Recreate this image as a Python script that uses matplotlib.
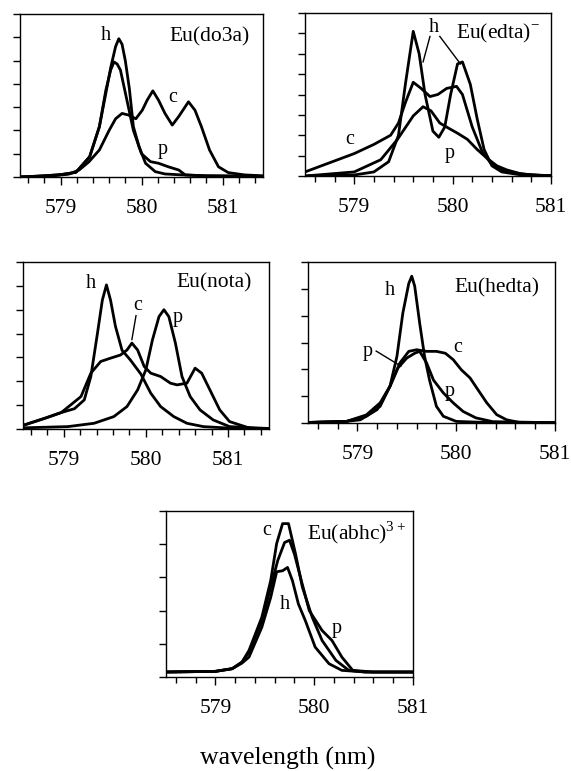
import matplotlib
matplotlib.use("Agg")
import matplotlib.pyplot as plt
from matplotlib.ticker import MultipleLocator

plt.rcParams['font.family'] = ['Liberation Serif', 'DejaVu Serif']
plt.rcParams['mathtext.fontset'] = 'custom'
plt.rcParams['mathtext.rm'] = 'Liberation Serif'

# ---------------- Eu(do3a) ----------------
do3a_h_x = [578.5, 578.8, 579.0, 579.19, 579.36, 579.48, 579.56, 579.62, 579.68, 579.72, 579.76,
            579.8, 579.85, 579.9, 579.97, 580.05, 580.17, 580.29, 580.5, 580.8, 581.5]
do3a_h_y = [0.0, 0.05, 0.1, 0.2, 0.87, 2.16, 3.6, 4.7, 5.6, 5.94, 5.7,
            5.0, 3.8, 2.16, 1.3, 0.59, 0.23, 0.13, 0.09, 0.05, 0.03]
do3a_p_x = [578.5, 578.8, 579.0, 579.19, 579.36, 579.48, 579.56, 579.62, 579.66, 579.7, 579.74,
            579.82, 579.9, 580.0, 580.11, 580.21, 580.33, 580.46, 580.54, 580.8, 581.5]
do3a_p_y = [0.0, 0.05, 0.1, 0.2, 0.87, 2.16, 3.73, 4.6, 4.94, 4.85, 4.59,
            3.3, 2.0, 1.0, 0.66, 0.59, 0.44, 0.3, 0.09, 0.05, 0.03]
do3a_c_x = [578.5, 578.9, 579.1, 579.23, 579.35, 579.48, 579.6, 579.68, 579.76, 579.84, 579.93,
            580.01, 580.07, 580.14, 580.21, 580.29, 580.38, 580.46, 580.58, 580.66, 580.74,
            580.84, 580.95, 581.07, 581.27, 581.5]
do3a_c_y = [0.0, 0.05, 0.12, 0.3, 0.65, 1.16, 2.0, 2.5, 2.73, 2.66, 2.5,
            2.87, 3.3, 3.7, 3.3, 2.73, 2.23, 2.6, 3.23, 2.87, 2.16,
            1.16, 0.44, 0.19, 0.09, 0.05]

# ---------------- Eu(edta)- ----------------
edta_h_x = [578.5, 579.0, 579.2, 579.35, 579.45, 579.52, 579.6, 579.66, 579.72, 579.8, 579.86,
            579.92, 579.98, 580.05, 580.1, 580.18, 580.25, 580.32, 580.4, 580.5, 580.7, 581.0]
edta_h_y = [0.0, 0.05, 0.2, 0.7, 2.0, 4.5, 7.1, 6.0, 4.0, 2.2, 1.9,
            2.4, 4.0, 5.5, 5.6, 4.5, 2.8, 1.3, 0.5, 0.2, 0.05, 0.02]
edta_c_x = [578.5, 579.0, 579.2, 579.37, 579.45, 579.52, 579.6, 579.68, 579.77, 579.85, 579.94,
            580.04, 580.1, 580.2, 580.3, 580.4, 580.55, 580.8, 581.0]
edta_c_y = [0.2, 1.1, 1.55, 2.0, 2.6, 3.6, 4.6, 4.3, 3.9, 4.0, 4.3,
            4.4, 4.0, 2.4, 1.2, 0.55, 0.2, 0.05, 0.02]
edta_p_x = [578.5, 579.0, 579.27, 579.44, 579.6, 579.7, 579.78, 579.87, 579.94, 580.05, 580.15,
            580.25, 580.35, 580.45, 580.55, 580.7, 580.9, 581.0]
edta_p_y = [0.0, 0.2, 0.8, 1.8, 2.95, 3.4, 3.2, 2.6, 2.4, 2.1, 1.8,
            1.3, 0.87, 0.5, 0.3, 0.1, 0.03, 0.02]

# ---------------- Eu(nota) ----------------
nota_h_x = [578.52, 578.77, 578.97, 579.13, 579.25, 579.33, 579.41, 579.47, 579.52, 579.57, 579.63,
            579.71, 579.81, 579.94, 580.06, 580.18, 580.34, 580.5, 580.7, 581.0, 581.5]
nota_h_y = [0.17, 0.45, 0.69, 0.85, 1.22, 2.2, 4.0, 5.4, 6.04, 5.4, 4.3,
            3.3, 2.9, 2.3, 1.5, 0.94, 0.52, 0.24, 0.1, 0.04, 0.02]
nota_c_x = [578.52, 578.77, 578.97, 579.21, 579.33, 579.45, 579.57, 579.69, 579.77, 579.83, 579.9,
            579.98, 580.06, 580.18, 580.3, 580.38, 580.5, 580.6, 580.68, 580.78, 580.9, 581.02,
            581.27, 581.5]
nota_c_y = [0.17, 0.45, 0.69, 1.36, 2.34, 2.83, 2.97, 3.1, 3.31, 3.6, 3.31,
            2.62, 2.34, 2.2, 1.92, 1.85, 1.92, 2.55, 2.34, 1.64, 0.8, 0.31,
            0.03, 0.02]
nota_p_x = [578.52, 579.05, 579.37, 579.61, 579.77, 579.9, 580.0, 580.08, 580.16, 580.22, 580.28,
            580.36, 580.44, 580.54, 580.66, 580.82, 581.02, 581.5]
nota_p_y = [0.05, 0.1, 0.24, 0.52, 0.94, 1.64, 2.48, 3.73, 4.71, 5.0, 4.71,
            3.6, 2.2, 1.36, 0.8, 0.38, 0.1, 0.02]

# ---------------- Eu(hedta) ----------------
hedta_h_x = [578.5, 578.89, 579.09, 579.23, 579.33, 579.4, 579.46, 579.52, 579.55, 579.58, 579.63,
             579.68, 579.73, 579.8, 579.87, 580.0, 580.3, 581.0]
hedta_h_y = [0.02, 0.06, 0.3, 0.75, 1.37, 2.48, 4.1, 5.2, 5.47, 5.1, 3.73,
             2.48, 1.6, 0.62, 0.25, 0.06, 0.02, 0.01]
hedta_c_x = [578.5, 578.89, 579.03, 579.2, 579.33, 579.43, 579.52, 579.6, 579.7, 579.8, 579.89,
             579.97, 580.05, 580.14, 580.22, 580.31, 580.41, 580.51, 580.64, 581.0]
hedta_c_y = [0.02, 0.06, 0.12, 0.5, 1.37, 2.24, 2.67, 2.73, 2.67, 2.67, 2.6,
             2.36, 1.99, 1.68, 1.24, 0.75, 0.31, 0.12, 0.02, 0.01]
hedta_p_x = [578.5, 578.89, 579.09, 579.23, 579.33, 579.41, 579.5, 579.58, 579.63, 579.7, 579.77,
             579.87, 579.97, 580.07, 580.2, 580.37, 581.0]
hedta_p_y = [0.02, 0.06, 0.25, 0.62, 1.37, 2.05, 2.42, 2.6, 2.67, 2.24, 1.6,
             1.12, 0.75, 0.43, 0.19, 0.05, 0.01]

# ---------------- Eu(abhc)3+ ----------------
abhc_c_x = [578.49, 579.0, 579.17, 579.27, 579.34, 579.47, 579.56, 579.62, 579.68, 579.74, 579.81,
            579.88, 579.98, 580.08, 580.22, 580.35, 580.52, 581.0]
abhc_c_y = [0.15, 0.17, 0.25, 0.45, 0.8, 1.8, 2.91, 4.02, 4.62, 4.62, 3.72,
            2.71, 1.8, 1.1, 0.5, 0.2, 0.15, 0.15]
abhc_p_x = [578.49, 579.0, 579.17, 579.27, 579.34, 579.47, 579.56, 579.63, 579.7, 579.75, 579.8,
            579.87, 579.95, 580.08, 580.18, 580.28, 580.39, 580.6, 581.0]
abhc_p_y = [0.15, 0.17, 0.25, 0.45, 0.75, 1.7, 2.7, 3.5, 4.05, 4.12, 3.7,
            2.9, 2.0, 1.4, 1.1, 0.6, 0.2, 0.15, 0.15]
abhc_h_x = [578.49, 579.0, 579.17, 579.27, 579.34, 579.47, 579.56, 579.62, 579.68, 579.73, 579.78,
            579.84, 579.91, 580.01, 580.15, 580.28, 580.52, 581.0]
abhc_h_y = [0.15, 0.17, 0.25, 0.42, 0.6, 1.5, 2.4, 3.17, 3.2, 3.3, 2.9,
            2.2, 1.7, 0.9, 0.4, 0.2, 0.15, 0.15]

W, H = 571, 771
fig = plt.figure(figsize=(W / 100, H / 100), dpi=100)


def panel(left, top, right, bottom, xmax, ymax):
    ax = fig.add_axes([left / W, 1 - bottom / H, (right - left) / W, (bottom - top) / H])
    ax.set_xlim(578.5, xmax)
    ax.set_ylim(0, ymax)
    ax.xaxis.set_major_locator(MultipleLocator(1))
    ax.xaxis.set_minor_locator(MultipleLocator(0.2))
    ax.yaxis.set_major_locator(MultipleLocator(1))
    ax.set_yticklabels([])
    ax.tick_params(axis='x', which='major', direction='out', length=6, width=1,
                   labelsize=15.5, pad=10)
    ax.tick_params(axis='x', which='minor', direction='out', length=4.5, width=1)
    ax.tick_params(axis='y', direction='out', length=5, width=1)
    for s in ax.spines.values():
        s.set_linewidth(1.0)
    return ax


def name(ax, x, y, base, sup, ha):
    # compound name with a small superscript charge
    t = ax.text(x, y, base + '$^{\\mathregular{' + sup + '}}$' if sup else base,
                transform=ax.transAxes, ha=ha, va='center', fontsize=15.5)
    return t


lw = 2.0
fs_lab = 14.5

# Eu(do3a)
ax1 = panel(20, 14, 263, 177, 581.5, 7)
ax1.plot(do3a_c_x, do3a_c_y, color='black', lw=lw)
ax1.plot(do3a_p_x, do3a_p_y, color='black', lw=lw)
ax1.plot(do3a_h_x, do3a_h_y, color='black', lw=lw)
name(ax1, 0.947, 0.86, 'Eu(do3a)', '', 'right')
ax1.text(0.354, 0.87, 'h', transform=ax1.transAxes, ha='center', va='center', fontsize=fs_lab)
ax1.text(0.63, 0.485, 'c', transform=ax1.transAxes, ha='center', va='center', fontsize=fs_lab)
ax1.text(0.588, 0.17, 'p', transform=ax1.transAxes, ha='center', va='center', fontsize=fs_lab)

# Eu(edta)-
ax2 = panel(305, 13, 551, 176, 581.0, 8)
ax2.plot(edta_c_x, edta_c_y, color='black', lw=lw)
ax2.plot(edta_p_x, edta_p_y, color='black', lw=lw)
ax2.plot(edta_h_x, edta_h_y, color='black', lw=lw)
name(ax2, 0.955, 0.875, 'Eu(edta)', '-', 'right')
ax2.text(0.524, 0.914, 'h', transform=ax2.transAxes, ha='center', va='center', fontsize=fs_lab)
ax2.plot([579.77, 579.7], [6.85, 5.6], color='black', lw=1.0)
ax2.plot([579.87, 580.08], [6.85, 5.5], color='black', lw=1.0)
ax2.text(0.183, 0.221, 'c', transform=ax2.transAxes, ha='center', va='center', fontsize=fs_lab)
ax2.text(0.589, 0.141, 'p', transform=ax2.transAxes, ha='center', va='center', fontsize=fs_lab)

# Eu(nota)
ax3 = panel(22.7, 262, 269, 429, 581.5, 7)
ax3.plot(nota_c_x, nota_c_y, color='black', lw=lw)
ax3.plot(nota_p_x, nota_p_y, color='black', lw=lw)
ax3.plot(nota_h_x, nota_h_y, color='black', lw=lw)
name(ax3, 0.932, 0.874, 'Eu(nota)', '', 'right')
ax3.text(0.276, 0.874, 'h', transform=ax3.transAxes, ha='center', va='center', fontsize=fs_lab)
ax3.text(0.468, 0.742, 'c', transform=ax3.transAxes, ha='center', va='center', fontsize=fs_lab)
ax3.plot([579.88, 579.83], [4.75, 3.75], color='black', lw=1.0)
ax3.text(0.631, 0.665, 'p', transform=ax3.transAxes, ha='center', va='center', fontsize=fs_lab)

# Eu(hedta)
ax4 = panel(308, 262, 555, 423, 581.0, 6)
ax4.plot(hedta_c_x, hedta_c_y, color='black', lw=lw)
ax4.plot(hedta_p_x, hedta_p_y, color='black', lw=lw)
ax4.plot(hedta_h_x, hedta_h_y, color='black', lw=lw)
name(ax4, 0.939, 0.84, 'Eu(hedta)', '', 'right')
ax4.text(0.332, 0.826, 'h', transform=ax4.transAxes, ha='center', va='center', fontsize=fs_lab)
ax4.text(0.607, 0.466, 'c', transform=ax4.transAxes, ha='center', va='center', fontsize=fs_lab)
ax4.text(0.243, 0.441, 'p', transform=ax4.transAxes, ha='center', va='center', fontsize=fs_lab)
ax4.plot([579.19, 579.44], [2.68, 2.12], color='black', lw=1.0)
ax4.text(0.575, 0.193, 'p', transform=ax4.transAxes, ha='center', va='center', fontsize=fs_lab)

# Eu(abhc)3+
ax5 = panel(166, 511, 413, 677, 581.0, 5)
ax5.plot(abhc_p_x, abhc_p_y, color='black', lw=lw)
ax5.plot(abhc_c_x, abhc_c_y, color='black', lw=lw)
ax5.plot(abhc_h_x, abhc_h_y, color='black', lw=lw)
name(ax5, 0.571, 0.867, 'Eu(abhc)', '3+', 'left')
ax5.text(0.409, 0.885, 'c', transform=ax5.transAxes, ha='center', va='center', fontsize=fs_lab)
ax5.text(0.482, 0.434, 'h', transform=ax5.transAxes, ha='center', va='center', fontsize=fs_lab)
ax5.text(0.692, 0.295, 'p', transform=ax5.transAxes, ha='center', va='center', fontsize=fs_lab)

fig.text(288 / W, 1 - 758 / H, 'wavelength (nm)', ha='center', va='center', fontsize=18.5)

fig.savefig('out.png', dpi=100)
